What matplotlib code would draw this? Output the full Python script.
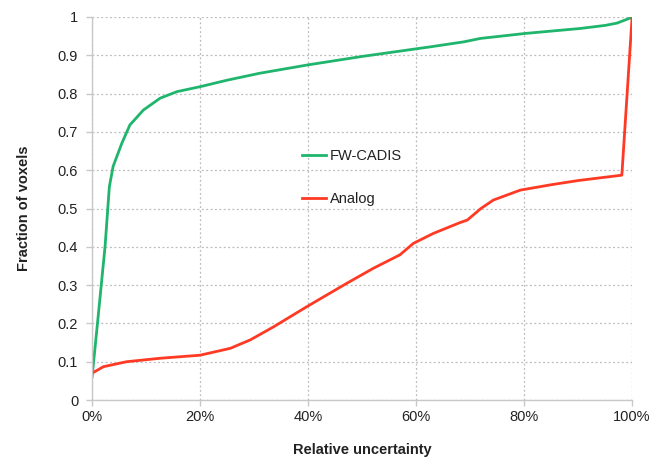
import matplotlib
matplotlib.use("Agg")
import matplotlib.pyplot as plt
from matplotlib.ticker import FuncFormatter

plt.rcParams['font.family'] = ['Liberation Sans', 'DejaVu Sans']

fw_x = [0, 1.0, 2.4, 3.2, 3.9, 5.5, 7.0, 9.5, 12.6, 15.7, 20, 25, 31, 40, 50, 62.6, 68.8, 71.9, 80.2, 90.4, 95, 97.2, 99.6, 100]
fw_y = [0.06, 0.20, 0.40, 0.557, 0.61, 0.67, 0.718, 0.757, 0.788, 0.805, 0.818, 0.835, 0.853, 0.875, 0.897, 0.922, 0.935, 0.944, 0.957, 0.970, 0.978, 0.984, 0.997, 1.0]

an_x = [0, 2.1, 6.4, 12.6, 20, 25.6, 29.3, 33.6, 39.8, 47.2, 52.1, 57, 59.5, 63.2, 68.1, 69.5, 72, 74.3, 79.3, 85, 90, 98.1, 100]
an_y = [0.07, 0.087, 0.10, 0.109, 0.117, 0.135, 0.157, 0.191, 0.244, 0.305, 0.344, 0.379, 0.409, 0.435, 0.463, 0.47, 0.50, 0.522, 0.548, 0.562, 0.573, 0.587, 1.0]

x_ticks = [0, 20, 40, 60, 80, 100]
y_ticks = [0, 0.1, 0.2, 0.3, 0.4, 0.5, 0.6, 0.7, 0.8, 0.9, 1]

fig = plt.figure(figsize=(6.53, 4.59), dpi=100)
ax = fig.add_axes([0.141, 0.1285, 0.827, 0.8345])

ax.plot(fw_x, fw_y, color='#1fb56c', lw=2.0, label='FW-CADIS')
ax.plot(an_x, an_y, color='#ff3a24', lw=2.0, label='Analog')

ax.set_xlim(0, 100)
ax.set_ylim(0, 1)
ax.set_xticks(x_ticks)
ax.set_yticks(y_ticks)
ax.xaxis.set_major_formatter(FuncFormatter(lambda v, p: f"{int(v)}%"))
ax.yaxis.set_major_formatter(FuncFormatter(lambda v, p: f"{v:g}"))
ax.grid(True, color='#bbbbbb', linestyle=(0, (1.5, 2)), linewidth=0.9)
ax.set_axisbelow(True)
for s in ['top', 'right']:
    ax.spines[s].set_visible(False)
for s in ['left', 'bottom']:
    ax.spines[s].set_color('#c8c8c8')
    ax.spines[s].set_linewidth(1.0)
ax.tick_params(axis='both', colors='#c8c8c8', labelcolor='#222222', labelsize=10.5, length=4, width=1)
ax.tick_params(axis='x', pad=3)
ax.tick_params(axis='y', pad=6)

ax.set_xlabel('Relative uncertainty', fontsize=10.5, fontweight='bold', color='#222222', labelpad=14)
ax.set_ylabel('Fraction of voxels', fontsize=10.5, fontweight='bold', color='#222222', labelpad=19)

leg = ax.legend(loc='upper left', bbox_to_anchor=(0.365, 0.69), frameon=False, fontsize=10.5,
                handlelength=1.6, handletextpad=0.3, labelspacing=2.0)
for t in leg.get_texts():
    t.set_color('#222222')

fig.savefig('out.png', dpi=100, facecolor='white')
